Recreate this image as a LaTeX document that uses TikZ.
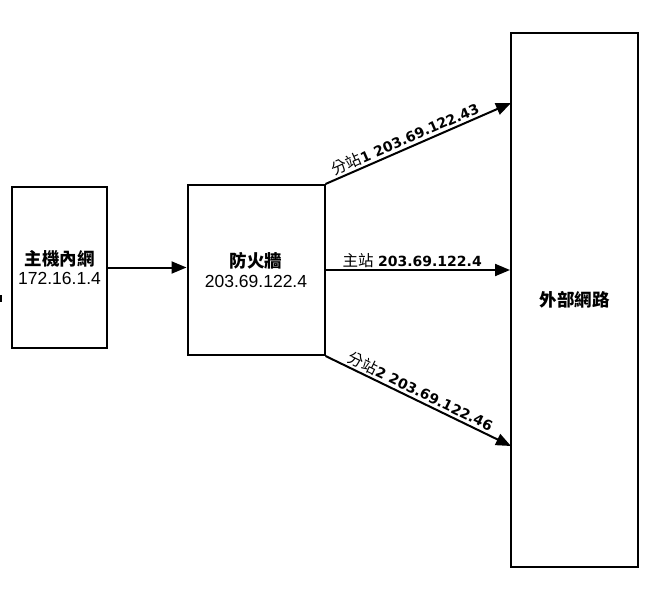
\documentclass[tikz,border=0pt]{standalone}
\usepackage{fontspec}
\setmainfont{DejaVu Sans}
\newfontfamily\boxfont{Liberation Sans}
\newfontfamily\cjk{Noto Sans CJK TC}
\usetikzlibrary{arrows.meta}
\begin{document}
\begin{tikzpicture}[x=1pt,y=-1pt,
  box/.style={draw,line width=2pt,inner sep=0pt,align=center,font=\boxfont\fontsize{17.5}{19.5}\selectfont},
  conn/.style={line width=2pt,-{Triangle[length=15pt,width=12pt]}},
  lbl/.style={font=\fontsize{14}{16}\selectfont,inner sep=1.5pt,sloped,above}]
\newcommand\lcjk[1]{{\cjk\fontsize{15.5}{16}\selectfont #1}}
\newcommand\bcjk[1]{{\cjk\bfseries\fontsize{17.5}{18}\selectfont #1}}
\useasboundingbox (0,0) rectangle (652,594);
\node[box,minimum width=95pt,minimum height=161pt] (host) at (59.5,267.5)
  {\bcjk{主機內網}\\172.16.1.4};
\node[box,minimum width=137pt,minimum height=170pt] (fw) at (256,270)
  {\bcjk{防火牆}\\203.69.122.4};
\node[box,minimum width=127pt,minimum height=534pt] (ext) at (574.5,300)
  {\bcjk{外部網路}};
\coordinate (e1) at (511,103);
\coordinate (e3) at (511,446);
\draw[conn] (host.east) -- (host.east -| fw.west);
\draw[conn] (fw.north east) -- node[lbl,pos=0.45] {\lcjk{分站}\textbf{1 203.69.122.43}} (e1);
\draw[conn] (fw.east) -- node[lbl,pos=0.47] {\lcjk{主站} \textbf{203.69.122.4}} (fw.east -| ext.west);
\draw[conn] (fw.south east) -- node[lbl,pos=0.49] {\lcjk{分站}\textbf{2 203.69.122.46}} (e3);
\draw[line width=2pt] (1,295) -- (1,302);
\end{tikzpicture}
\end{document}
